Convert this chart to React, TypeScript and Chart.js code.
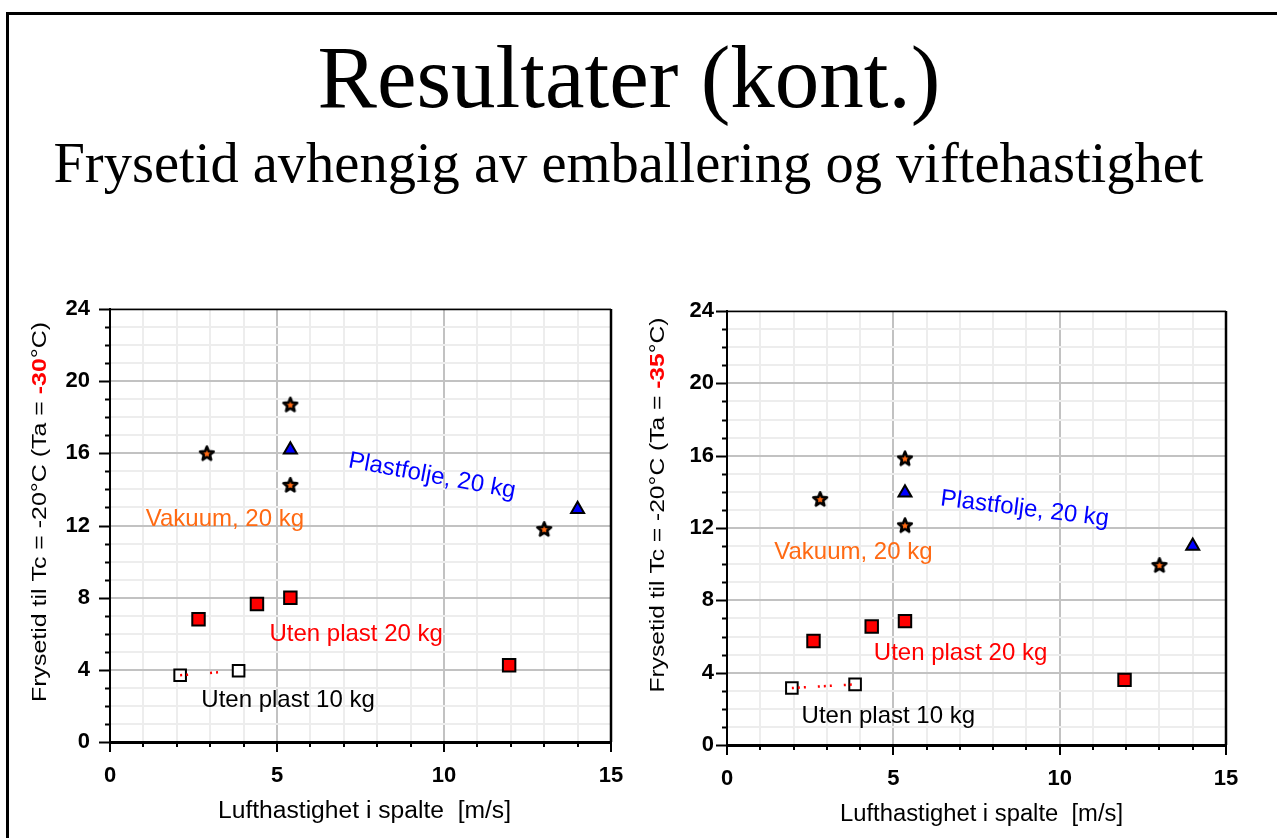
import React, { useEffect, useRef } from 'react';
import { Chart, registerables } from 'chart.js';

Chart.register(...registerables);

// ---------- data ----------
const xTickValues = [0, 5, 10, 15];
const yTickValues = [0, 4, 8, 12, 16, 20, 24];

// Left chart (Ta = -30 °C)
const leftVakuumX = [2.9, 5.4, 5.4, 13.0];
const leftVakuumY = [16.0, 18.7, 14.25, 11.8];
const leftPlastX = [5.4, 14.0];
const leftPlastY = [16.2, 12.9];
const leftUten20X = [2.65, 4.4, 5.4, 11.95];
const leftUten20Y = [6.8, 7.65, 8.0, 4.25];
const leftUten10X = [2.1, 3.85];
const leftUten10Y = [3.7, 3.95];

// Right chart (Ta = -35 °C)
const rightVakuumX = [2.8, 5.35, 5.35, 13.0];
const rightVakuumY = [13.6, 15.85, 12.15, 9.95];
const rightPlastX = [5.35, 14.0];
const rightPlastY = [13.95, 11.0];
const rightUten20X = [2.6, 4.35, 5.35, 11.95];
const rightUten20Y = [5.75, 6.55, 6.85, 3.6];
const rightUten10X = [1.95, 3.85];
const rightUten10Y = [3.15, 3.35];

const seriesLabels = ['Vakuum, 20 kg', 'Plastfolje, 20 kg', 'Uten plast 20 kg', 'Uten plast 10 kg'];
const leftLabelX = [3.44, 9.64, 7.37, 5.33];
const leftLabelY = [12.36, 14.74, 5.99, 2.33];
const rightLabelX = [3.8, 8.95, 7.02, 4.85];
const rightLabelY = [10.67, 13.05, 5.09, 1.6];

const xAxisTitle = 'Lufthastighet i spalte  [m/s]';
const yTitleStart = 'Frysetid til Tc = -20°C (Ta = ';
const yTitleEnd = '°C)';
const leftTa = '-30';
const rightTa = '-35';

const mainTitle = 'Resultater (kont.)';
const subTitle = 'Frysetid avhengig av emballering og viftehastighet';

// ---------- styles ----------
const SANS = "'Liberation Sans', Arial, Helvetica, sans-serif";
const SERIF = "'Liberation Serif', 'Times New Roman', Times, serif";
const ORANGE = '#ff6a13';
const BLUE = '#0000ff';
const RED = '#ff0000';
const labelColors = [ORANGE, BLUE, RED, '#000000'];

const zip = (xs: number[], ys: number[]) => xs.map((x, i) => ({ x, y: ys[i] }));

function makeStar(): HTMLCanvasElement {
  const c = document.createElement('canvas');
  c.width = 18;
  c.height = 18;
  const g = c.getContext('2d')!;
  const cx = 9, cy = 9.5, ro = 7.2, ri = 3.2;
  g.beginPath();
  for (let i = 0; i < 10; i++) {
    const r = i % 2 === 0 ? ro : ri;
    const a = -Math.PI / 2 + (i * Math.PI) / 5;
    const px = cx + r * Math.cos(a);
    const py = cy + r * Math.sin(a);
    if (i === 0) g.moveTo(px, py);
    else g.lineTo(px, py);
  }
  g.closePath();
  g.fillStyle = ORANGE;
  g.fill();
  g.lineJoin = 'round';
  g.lineWidth = 2.6;
  g.strokeStyle = '#000';
  g.stroke();
  g.beginPath();
  g.arc(cx, cy + 0.3, 1.6, 0, Math.PI * 2);
  g.fillStyle = ORANGE;
  g.fill();
  return c;
}

interface PanelCfg {
  left: number;
  top: number;
  width: number;
  height: number;
  yAxisWidth: number;
  xAxisHeight: number;
  padTop: number;
  padRight: number;
  yTickPad: number;
  xTickPad: number;
  yTitleX: number;
  yTitleCY: number;
  yTitleLen: number;
  xTitleLen: number;
  xTitleDX: number;
  ta: string;
  vak: { x: number[]; y: number[] };
  plast: { x: number[]; y: number[] };
  u20: { x: number[]; y: number[] };
  u10: { x: number[]; y: number[] };
  labX: number[];
  labY: number[];
  labRot: number[];
  dash: number[];
}

const decoPlugin = {
  id: 'deco',
  afterDraw(chart: any, _args: any, opts: any) {
    const { ctx, chartArea: a } = chart;
    const xs = chart.scales.x;
    const ys = chart.scales.y;
    ctx.save();
    ctx.strokeStyle = '#000';
    ctx.lineWidth = 2;
    // y tick marks
    ys.ticks.forEach((t: any) => {
      const py = Math.round(ys.getPixelForValue(t.value)) + 0.5;
      const len = yTickValues.includes(t.value) ? 11 : 5;
      ctx.beginPath();
      ctx.moveTo(a.left - len, py);
      ctx.lineTo(a.left, py);
      ctx.stroke();
    });
    // x tick marks
    xs.ticks.forEach((t: any) => {
      const px = Math.round(xs.getPixelForValue(t.value));
      const len = xTickValues.includes(t.value) ? 10 : 5;
      ctx.beginPath();
      ctx.moveTo(px, a.bottom);
      ctx.lineTo(px, a.bottom + len);
      ctx.stroke();
    });
    // frame top and right
    ctx.lineWidth = 1.5;
    ctx.beginPath();
    ctx.moveTo(a.left, a.top + 0.5);
    ctx.lineTo(a.right, a.top + 0.5);
    ctx.stroke();
    ctx.lineWidth = 2.5;
    ctx.beginPath();
    ctx.moveTo(a.right, a.top);
    ctx.lineTo(a.right, a.bottom);
    ctx.stroke();

    // x axis title (stretched to the reference width)
    ctx.fillStyle = '#000';
    ctx.font = `23px ${SANS}`;
    ctx.textAlign = 'center';
    ctx.textBaseline = 'middle';
    const xw = ctx.measureText(xAxisTitle).width;
    ctx.save();
    ctx.translate((a.left + a.right) / 2 + opts.xTitleDX, a.bottom + 70);
    ctx.scale(opts.xTitleLen / xw, 1);
    ctx.fillText(xAxisTitle, 0, 0);
    ctx.restore();

    // y axis title (rotated, mixed colours)
    const parts = [
      { t: yTitleStart, c: '#000', f: `20px ${SANS}` },
      { t: opts.ta, c: RED, f: `bold 20px ${SANS}` },
      { t: yTitleEnd, c: '#000', f: `20px ${SANS}` },
    ];
    let total = 0;
    const widths = parts.map((p) => {
      ctx.font = p.f;
      const w = ctx.measureText(p.t).width;
      total += w;
      return w;
    });
    const s = opts.yTitleLen / total;
    ctx.save();
    ctx.translate(opts.yTitleX, opts.yTitleCY);
    ctx.rotate(-Math.PI / 2);
    ctx.scale(s, 1);
    ctx.textAlign = 'left';
    ctx.textBaseline = 'middle';
    let cx = -total / 2;
    parts.forEach((p, i) => {
      ctx.font = p.f;
      ctx.fillStyle = p.c;
      ctx.fillText(p.t, cx, 0);
      cx += widths[i];
    });
    ctx.restore();

    // series labels
    ctx.font = `24px ${SANS}`;
    ctx.textAlign = 'center';
    ctx.textBaseline = 'middle';
    seriesLabels.forEach((txt, i) => {
      ctx.save();
      ctx.translate(xs.getPixelForValue(opts.labX[i]), ys.getPixelForValue(opts.labY[i]));
      ctx.rotate((opts.labRot[i] * Math.PI) / 180);
      ctx.fillStyle = labelColors[i];
      ctx.fillText(txt, 0, 0);
      ctx.restore();
    });
    ctx.restore();
  },
};

function Panel({ cfg }: { cfg: PanelCfg }) {
  const ref = useRef<HTMLCanvasElement | null>(null);
  useEffect(() => {
    if (!ref.current) return;
    const star = makeStar();
    const gridColor = (major: number[]) => (c: any) =>
      c.tick && major.includes(c.tick.value) ? '#c2c2c2' : '#ededed';
    const chart = new Chart(ref.current, {
      type: 'scatter',
      data: {
        datasets: [
          {
            label: 'line10',
            data: zip(cfg.u10.x, cfg.u10.y),
            showLine: true,
            borderColor: RED,
            borderWidth: 2.5,
            borderDash: cfg.dash,
            pointRadius: 0,
            order: -1,
          } as any,
          {
            label: seriesLabels[3],
            data: zip(cfg.u10.x, cfg.u10.y),
            pointStyle: 'rect',
            pointRadius: 8.2,
            backgroundColor: '#ffffff',
            borderColor: '#000',
            borderWidth: 2,
          },
          {
            label: seriesLabels[2],
            data: zip(cfg.u20.x, cfg.u20.y),
            pointStyle: 'rect',
            pointRadius: 8.8,
            backgroundColor: RED,
            borderColor: '#000',
            borderWidth: 2,
          },
          {
            label: seriesLabels[1],
            data: zip(cfg.plast.x, cfg.plast.y),
            pointStyle: 'triangle',
            pointRadius: 7.5,
            backgroundColor: BLUE,
            borderColor: '#000',
            borderWidth: 2,
          },
          {
            label: seriesLabels[0],
            data: zip(cfg.vak.x, cfg.vak.y),
            pointStyle: star as any,
            pointRadius: 8,
            backgroundColor: ORANGE,
            borderColor: '#000',
          },
        ],
      },
      options: {
        animation: false,
        responsive: false,
        maintainAspectRatio: false,
        events: [],
        layout: { padding: { top: cfg.padTop, right: cfg.padRight, left: 0, bottom: 0 } },
        plugins: {
          legend: { display: false },
          tooltip: { enabled: false },
          deco: {
            ta: cfg.ta,
            yTitleX: cfg.yTitleX,
            yTitleCY: cfg.yTitleCY,
            yTitleLen: cfg.yTitleLen,
            xTitleLen: cfg.xTitleLen,
            xTitleDX: cfg.xTitleDX,
            labX: cfg.labX,
            labY: cfg.labY,
            labRot: cfg.labRot,
          },
        } as any,
        scales: {
          x: {
            type: 'linear',
            min: 0,
            max: 15,
            afterFit: (s: any) => {
              s.height = cfg.xAxisHeight;
              s.paddingLeft = 0;
              s.paddingRight = 0;
            },
            ticks: {
              stepSize: 1,
              autoSkip: false,
              maxRotation: 0,
              padding: cfg.xTickPad,
              color: '#000',
              font: { family: SANS, size: 22, weight: 'bold' },
              callback: (v: any) => (xTickValues.includes(Number(v)) ? String(v) : ''),
            },
            grid: {
              drawTicks: false,
              color: gridColor(xTickValues),
              lineWidth: 2,
            },
            border: { display: true, color: '#000', width: 3 },
          },
          y: {
            type: 'linear',
            min: 0,
            max: 24,
            afterFit: (s: any) => {
              s.width = cfg.yAxisWidth;
              s.paddingTop = 0;
              s.paddingBottom = 0;
            },
            ticks: {
              stepSize: 1,
              autoSkip: false,
              padding: cfg.yTickPad,
              color: '#000',
              font: { family: SANS, size: 22, weight: 'bold' },
              callback: (v: any) => (yTickValues.includes(Number(v)) ? String(v) : ''),
            },
            grid: {
              drawTicks: false,
              color: gridColor(yTickValues),
              lineWidth: 2,
            },
            border: { display: true, color: '#000', width: 2 },
          },
        },
      } as any,
      plugins: [decoPlugin as any],
    });
    return () => chart.destroy();
  }, [cfg]);
  return (
    <canvas
      ref={ref}
      width={cfg.width}
      height={cfg.height}
      style={{ position: 'absolute', left: cfg.left, top: cfg.top, width: cfg.width, height: cfg.height }}
    />
  );
}

const leftCfg: PanelCfg = {
  left: 0,
  top: 290,
  width: 640,
  height: 548,
  yAxisWidth: 110,
  xAxisHeight: 96,
  padTop: 19,
  padRight: 29,
  yTickPad: 20,
  xTickPad: 21,
  yTitleX: 40,
  yTitleCY: 222,
  yTitleLen: 380,
  xTitleLen: 293,
  xTitleDX: 4,
  ta: leftTa,
  vak: { x: leftVakuumX, y: leftVakuumY },
  plast: { x: leftPlastX, y: leftPlastY },
  u20: { x: leftUten20X, y: leftUten20Y },
  u10: { x: leftUten10X, y: leftUten10Y },
  labX: leftLabelX,
  labY: leftLabelY,
  labRot: [0, 10.5, 0, 0],
  dash: [2, 4, 2, 22],
};

const rightCfg: PanelCfg = {
  left: 640,
  top: 290,
  width: 637,
  height: 548,
  yAxisWidth: 87,
  xAxisHeight: 93,
  padTop: 21,
  padRight: 51,
  yTickPad: 13,
  xTickPad: 21,
  yTitleX: 18,
  yTitleCY: 215,
  yTitleLen: 375,
  xTitleLen: 283,
  xTitleDX: 5,
  ta: rightTa,
  vak: { x: rightVakuumX, y: rightVakuumY },
  plast: { x: rightPlastX, y: rightPlastY },
  u20: { x: rightUten20X, y: rightUten20Y },
  u10: { x: rightUten10X, y: rightUten10Y },
  labX: rightLabelX,
  labY: rightLabelY,
  labRot: [0, 7, 0, 0],
  dash: [2, 4, 2, 4, 2, 12],
};

export default function App() {
  return (
    <div
      style={{
        position: 'fixed',
        left: 0,
        top: 0,
        width: 1277,
        height: 838,
        background: '#fff',
        overflow: 'hidden',
      }}
    >
      <div
        style={{
          position: 'absolute',
          left: 6,
          top: 12,
          width: 1300,
          height: 900,
          borderLeft: '3px solid #000',
          borderTop: '3px solid #000',
        }}
      />
      <div
        style={{
          position: 'absolute',
          left: 0,
          top: 33,
          width: 1258,
          textAlign: 'center',
          fontFamily: SERIF,
          fontSize: 89,
          lineHeight: '89px',
          color: '#000',
          whiteSpace: 'nowrap',
        }}
      >
        {mainTitle}
      </div>
      <div
        style={{
          position: 'absolute',
          left: 0,
          top: 135,
          width: 1257,
          textAlign: 'center',
          fontFamily: SERIF,
          fontSize: 56.5,
          lineHeight: '57px',
          color: '#000',
          whiteSpace: 'nowrap',
        }}
      >
        {subTitle}
      </div>
      <Panel cfg={leftCfg} />
      <Panel cfg={rightCfg} />
    </div>
  );
}
